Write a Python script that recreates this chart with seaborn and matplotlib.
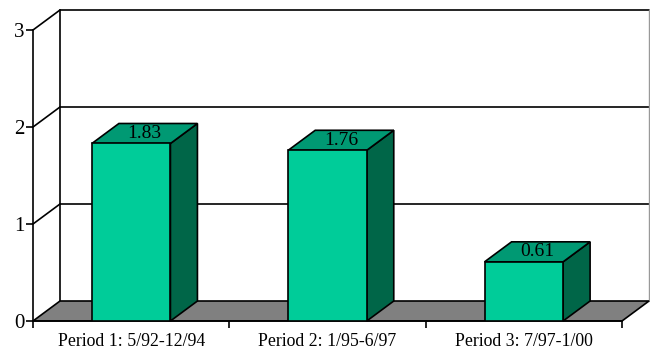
import matplotlib
matplotlib.use("Agg")
import matplotlib.pyplot as plt
from matplotlib.patches import Polygon
import seaborn as sns
import pandas as pd

periods = ["Period 1: 5/92-12/94", "Period 2: 1/95-6/97", "Period 3: 7/97-1/00"]
values = [1.83, 1.76, 0.61]
y_ticks = [0, 1, 2, 3]

FRONT = "#00CC99"
TOP = "#009973"
SIDE = "#006648"
FLOOR = "#808080"
LW = 1.2

sns.set_theme(style="white")
plt.rcParams["font.family"] = ["Liberation Serif", "DejaVu Serif"]

fig = plt.figure(figsize=(6.5, 3.5), dpi=100)
ax = fig.add_axes([33 / 650, 29 / 350, 589 / 650, 291 / 350])

df = pd.DataFrame({"period": periods, "value": values})
sns.barplot(data=df, x="period", y="value", order=periods, color=FRONT,
            saturation=1, width=0.4, edgecolor="black", linewidth=LW,
            ax=ax, zorder=5)

ax.set_xlim(-0.5, 2.5)
ax.set_ylim(0, 3)

# depth offset of the pseudo-3D box, in data units
DX = 27 / (589 / 3)
DY = 20 / 97
x0, x1 = -0.5, 2.5
ytop = 3

# back wall with horizontal gridlines
ax.add_patch(Polygon([(x0 + DX, DY), (x1 + DX, DY), (x1 + DX, ytop + DY), (x0 + DX, ytop + DY)],
                     closed=True, facecolor="white", edgecolor="none", zorder=0, clip_on=False))
for yv in y_ticks[1:]:
    ax.plot([x0 + DX, x1 + DX], [yv + DY, yv + DY], color="black", lw=LW, zorder=1, clip_on=False)
    ax.plot([x0, x0 + DX], [yv, yv + DY], color="black", lw=LW, zorder=1, clip_on=False)
ax.plot([x0 + DX, x0 + DX], [DY, ytop + DY], color="black", lw=LW, zorder=1, clip_on=False)
ax.plot([x1 + DX, x1 + DX], [DY, ytop + DY], color="#999999", lw=1.0, zorder=1, clip_on=False)

# floor
ax.add_patch(Polygon([(x0, 0), (x1, 0), (x1 + DX, DY), (x0 + DX, DY)], closed=True,
                     facecolor=FLOOR, edgecolor="black", lw=LW, zorder=2, clip_on=False))

# side and top faces of each bar, with the value on the top face
for patch, v in zip(ax.patches[:len(values)], values):
    left = patch.get_x()
    w = patch.get_width()
    h = patch.get_height()
    right = left + w
    ax.add_patch(Polygon([(right, 0), (right + DX, DY), (right + DX, h + DY), (right, h)],
                         closed=True, facecolor=SIDE, edgecolor="black", lw=LW, zorder=4, clip_on=False))
    ax.add_patch(Polygon([(left, h), (right, h), (right + DX, h + DY), (left + DX, h + DY)],
                         closed=True, facecolor=TOP, edgecolor="black", lw=LW, zorder=4, clip_on=False))
    ax.text(left + w / 2 + DX / 2, h + DY / 2, f"{v:.2f}", ha="center", va="center",
            fontsize=14, color="black", zorder=6)

for s in ["top", "right"]:
    ax.spines[s].set_visible(False)
ax.spines["left"].set_color("black")
ax.spines["bottom"].set_color("black")
ax.spines["left"].set_linewidth(LW)
ax.spines["bottom"].set_linewidth(LW)

ax.set_yticks(y_ticks)
ax.set_yticklabels([str(t) for t in y_ticks], fontsize=15)
ax.tick_params(axis="y", left=True, length=5, width=LW, color="black", pad=1, labelcolor="black")

ax.set_xticks([0, 1, 2])
ax.set_xticklabels(periods, fontsize=12.8)
ax.set_xticks([-0.5, 0.5, 1.5, 2.5], minor=True)
ax.tick_params(axis="x", which="major", bottom=False, length=0, pad=9, labelcolor="black")
ax.tick_params(axis="x", which="minor", bottom=True, length=5, width=LW, color="black")

ax.set_xlabel("")
ax.set_ylabel("")
ax.grid(False)

fig.savefig("out.png", dpi=100)
